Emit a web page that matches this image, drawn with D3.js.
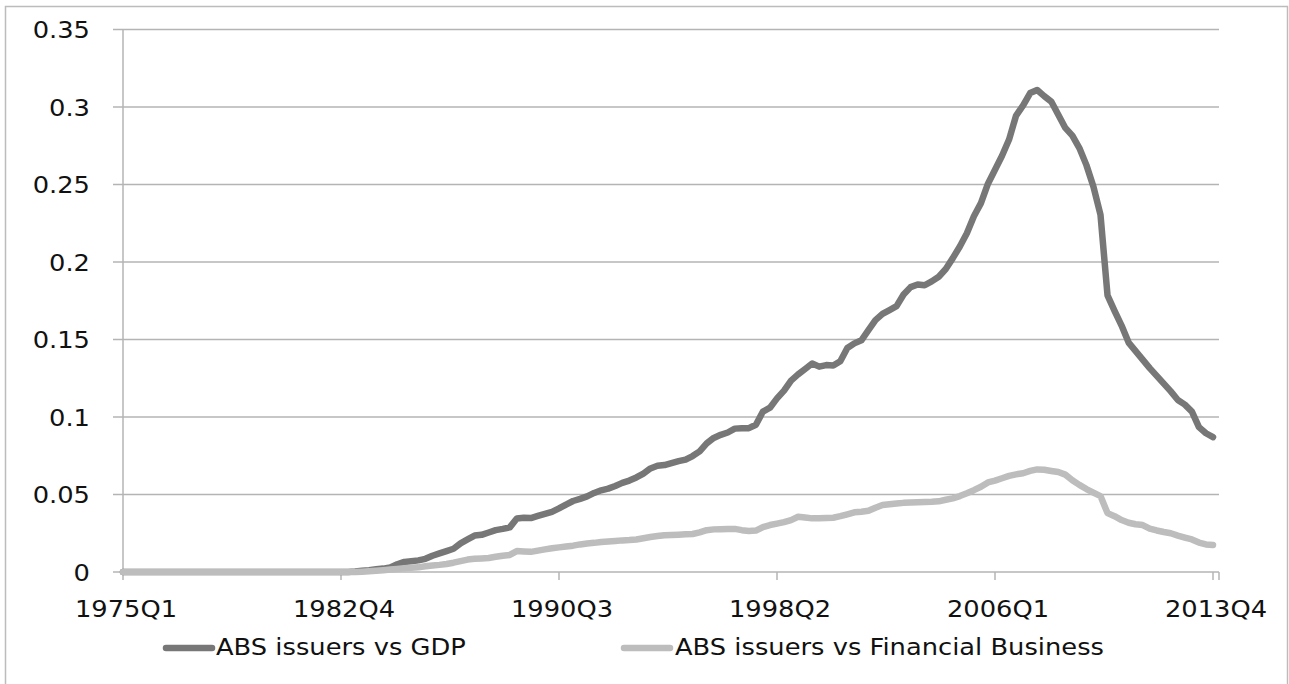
<!DOCTYPE html>
<html>
<head>
<meta charset="utf-8">
<script src="https://cdn.jsdelivr.net/npm/d3@7"></script>
<style>
  body { margin: 0; background: #fff; }
  svg text { font-family: "DejaVu Sans", sans-serif; fill: #111; }
</style>
</head>
<body>
<svg id="chart" width="1289" height="684"></svg>
<script>
// quarters 1975Q1 .. 2013Q4
const quarters = [];
for (let y = 1975; y <= 2013; y++) for (let q = 1; q <= 4; q++) quarters.push(y + "Q" + q);

const tickLabels = ["1975Q1", "1982Q4", "1990Q3", "1998Q2", "2006Q1", "2013Q4"];
const yTicks = [0, 0.05, 0.1, 0.15, 0.2, 0.25, 0.3, 0.35];
const seriesNames = ["ABS issuers vs GDP", "ABS issuers vs Financial Business"];

const gdpValues = [
  0,0,0,0,0,0,0,0,0,0, 0,0,0,0,0,0,0,0,0,0, 0,0,0,0,0,0,0,0,0,0, 0,0,0,
  0.0003,0.0008,0.0012,0.0018,0.0022,0.003,0.005,0.0065,0.007,0.0075,
  0.0085,0.0105,0.012,0.0135,0.015,0.0185,0.021,0.0235,0.024,0.0255,
  0.027,0.0278,0.0288,0.0345,0.035,0.0348,0.0362,0.0375,0.0388,0.041,
  0.0435,0.0458,0.0472,0.0488,0.051,0.0527,0.0538,0.0555,0.0575,0.059,
  0.061,0.0635,0.0668,0.0685,0.069,0.0703,0.0715,0.0725,0.0748,0.0778,
  0.083,0.0865,0.0885,0.09,0.0925,0.0928,0.0928,0.095,0.1035,0.106,
  0.112,0.117,0.1235,0.1275,0.131,0.1345,0.1325,0.1335,0.1332,0.136,
  0.1445,0.1475,0.1495,0.156,0.1625,0.1665,0.169,0.1715,0.179,0.1838,
  0.1855,0.185,0.1875,0.1905,0.1955,0.2025,0.21,0.2185,0.2295,0.238,
  0.2505,0.2595,0.2685,0.279,0.2945,0.301,0.309,0.311,0.307,0.3035,
  0.295,0.2865,0.2815,0.2735,0.2625,0.2485,0.2305,0.1785,0.1685,0.159,
  0.148,0.1425,0.137,0.1315,0.1265,0.1215,0.1165,0.111,0.108,0.1035,
  0.0935,0.0895,0.087
];

const finValues = [
  0,0,0,0,0,0,0,0,0,0, 0,0,0,0,0,0,0,0,0,0, 0,0,0,0,0,0,0,0,0,0, 0,0,0,0,
  0.0002,0.0005,0.0008,0.0012,0.0016,0.002,0.0024,0.0027,0.003,0.0037,
  0.0042,0.0046,0.0052,0.006,0.007,0.008,0.0085,0.0087,0.009,0.0098,
  0.0105,0.011,0.0135,0.0132,0.013,0.0138,0.0146,0.0153,0.0159,0.0165,
  0.017,0.0178,0.0184,0.0188,0.0194,0.0197,0.02,0.0204,0.0206,0.021,
  0.0218,0.0226,0.0232,0.0237,0.0239,0.0241,0.0243,0.0245,0.0256,0.027,
  0.0275,0.0276,0.0277,0.0278,0.027,0.0265,0.0267,0.029,0.0303,0.0312,
  0.0322,0.0335,0.0356,0.0352,0.0346,0.0347,0.0348,0.035,0.036,0.0372,
  0.0385,0.0389,0.0395,0.0415,0.0432,0.0437,0.0442,0.0446,0.0448,0.045,
  0.0452,0.0453,0.0456,0.0466,0.0475,0.049,0.0508,0.0528,0.055,0.0578,
  0.059,0.0605,0.062,0.063,0.0637,0.0652,0.0662,0.066,0.0652,0.0645,
  0.0628,0.0592,0.0562,0.0535,0.0512,0.049,0.038,0.036,0.0335,0.0318,
  0.0308,0.0303,0.028,0.0268,0.0258,0.025,0.0235,0.0222,0.021,0.019,
  0.0178,0.0174
];

const colors = ["#777777", "#bdbdbd"];
const stretch = 1.12; // glyphs in the picture are a bit wide

const svg = d3.select("#chart");

// chart area border
svg.append("rect")
  .attr("x", 5.5).attr("y", 6.5)
  .attr("width", 1282).attr("height", 700)
  .attr("fill", "none").attr("stroke", "#bcbcbc").attr("stroke-width", 1.5);

const x = d3.scalePoint().domain(quarters).range([123, 1213]);
const y = d3.scaleLinear().domain([0, 0.35]).range([572, 29.5]);

function addText(g, tx, ty, str, anchor) {
  g.append("g")
    .attr("transform", "translate(" + tx + "," + ty + ")")
    .append("text")
    .attr("transform", "scale(" + stretch + ",1)")
    .attr("text-anchor", anchor)
    .attr("font-size", 23)
    .text(str);
}

////////  Grid and axes /////////////

const grid = svg.append("g").attr("id", "grid");
grid.selectAll("line")
  .data(yTicks)
  .join("line")
  .attr("x1", 113).attr("x2", 1219)
  .attr("y1", d => y(d)).attr("y2", d => y(d))
  .attr("stroke", "#b4b4b4").attr("stroke-width", 1.5);

// y axis line
svg.append("line")
  .attr("x1", x(quarters[0])).attr("x2", x(quarters[0]))
  .attr("y1", y(0.35)).attr("y2", y(0))
  .attr("stroke", "#b4b4b4").attr("stroke-width", 1.5);

const yLab = svg.append("g").attr("id", "y_labels");
yTicks.forEach(t => addText(yLab, 90, y(t) + 8.5, String(t), "end"));

// x tick marks + labels
const xAxis = svg.append("g").attr("id", "x_axis");
xAxis.selectAll("line")
  .data(tickLabels.concat(["end"]))
  .join("line")
  .attr("x1", d => d == "end" ? 1219 : x(d))
  .attr("x2", d => d == "end" ? 1219 : x(d))
  .attr("y1", y(0)).attr("y2", y(0) + 8)
  .attr("stroke", "#b4b4b4").attr("stroke-width", 1.5);
tickLabels.forEach(t => addText(xAxis, x(t) + 3, 617, t, "middle"));

//////// Lines ///////////////

const line = d3.line()
  .x((d, i) => x(quarters[i]))
  .y(d => y(d));

// GDP first, financial on top (covers the flat zero stretch)
svg.append("g").attr("id", "lines")
  .selectAll("path")
  .data([gdpValues, finValues])
  .join("path")
  .attr("d", line)
  .attr("fill", "none")
  .attr("stroke", (d, i) => colors[i])
  .attr("stroke-width", 6.5)
  .attr("stroke-linejoin", "round")
  .attr("stroke-linecap", "round");

//////// Legend ///////////////

const legend = svg.append("g").attr("id", "legend");
const legendPos = [{x: 166, tx: 216}, {x: 624, tx: 675}];
seriesNames.forEach((name, i) => {
  legend.append("line")
    .attr("x1", legendPos[i].x).attr("x2", legendPos[i].x + 46)
    .attr("y1", 648).attr("y2", 648)
    .attr("stroke", colors[i]).attr("stroke-width", 6.5)
    .attr("stroke-linecap", "round");
  addText(legend, legendPos[i].tx, 655, name, "start");
});
</script>
</body>
</html>
